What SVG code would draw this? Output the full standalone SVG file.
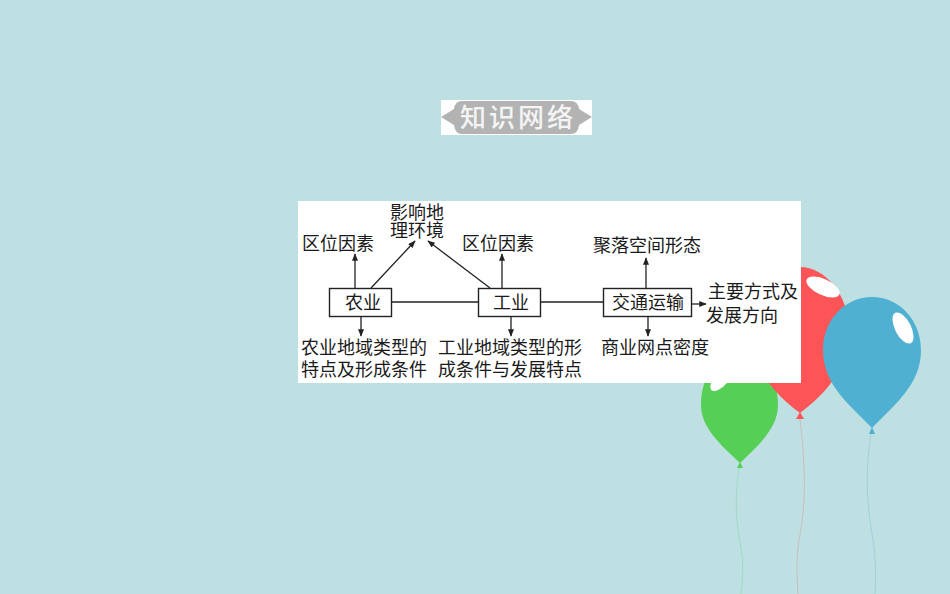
<svg xmlns="http://www.w3.org/2000/svg" width="950" height="594" viewBox="0 0 950 594">
<style>
text{font-family:"Noto Sans CJK SC","Liberation Serif",serif;font-size:18px;fill:#1a1a1a}
.box{fill:#fff;stroke:#222;stroke-width:1.4}
.ln{stroke:#222;stroke-width:1.3;fill:none}
.ar{stroke:#222;stroke-width:1.3;fill:none;marker-end:url(#a)}
.str{fill:none;stroke-width:1;opacity:.4}
</style>
<defs><marker id="a" viewBox="0 0 10 8" refX="9" refY="4" markerWidth="9" markerHeight="6" markerUnits="userSpaceOnUse" orient="auto"><path d="M0 0L10 4L0 8z" fill="#222"/></marker></defs>
<rect width="950" height="594" fill="#bfe0e2"/>
<g id="balloons">
<path class="str" stroke="#6fcf8a" d="M739 468C733 510 738 530 742 555C744 570 742 585 741 594"/>
<path class="str" stroke="#d88a8a" d="M800 419C806 470 806 505 799 540C796 560 797 580 798 594"/>
<path class="str" stroke="#6fb8cf" d="M871 434C864 480 868 510 873 540C876 560 876 580 875 594"/>
<path fill="#55cf55" d="M740 463C722 446 701 428 701 405C701 377 718 350 740 350C762 350 778 377 778 405C778 428 758 446 740 463z"/>
<path fill="#55cf55" d="M740 462l-3 6h6z"/>
<ellipse cx="722" cy="378" rx="16" ry="7" fill="#fff" transform="rotate(-50 722 378)"/>
<path fill="#fd5557" d="M800 413C780 398 751 372 751 330C751 295 775 267 800 267C825 267 849 295 849 330C849 372 820 398 800 413z"/>
<path fill="#fd5557" d="M800 412l-4 7h8z"/>
<ellipse cx="823" cy="287" rx="18" ry="8" fill="#fff" transform="rotate(25 823 287)"/>
<path fill="#4fb0d2" d="M872 428C850 405 823 385 823 350C823 320 845 297 872 297C899 297 921 320 921 350C921 385 894 405 872 428z"/>
<path fill="#4fb0d2" d="M872 427l-3 7h6z"/>
<ellipse cx="903" cy="328" rx="8" ry="17" fill="#fff" transform="rotate(-27 903 328)"/>
</g>
<g id="title">
<rect x="441" y="100" width="151" height="35" fill="#fff"/>
<path fill="#b3b3b3" d="M441 117L454 109Q455 101 462 101H571Q578 101 579 109L592 117L579 125Q578 134 571 134H462Q455 134 454 125z"/>
<text x="460" y="127" style="font-size:26px;letter-spacing:3px;fill:#f4f4f4;font-weight:500">知识网络</text>
</g>
<rect x="298" y="201" width="503" height="182" fill="#fff"/>
<g id="connectors">
<path class="ln" d="M392 302H478M541 302H603"/>
<path class="ar" d="M355 288V254"/>
<path class="ar" d="M371 288L415 241"/>
<path class="ar" d="M490 288L428 241"/>
<path class="ar" d="M502 288V254"/>
<path class="ar" d="M646 288V258"/>
<path class="ar" d="M361 317V336"/>
<path class="ar" d="M511 317V336"/>
<path class="ar" d="M648 317V336"/>
<path class="ar" d="M691 304H706"/>
</g>
<g id="n-nongye"><rect class="box" x="329.500" y="288.500" width="62" height="28"/><text x="345" y="309">农业</text></g>
<g id="n-gongye"><rect class="box" x="478.500" y="288.500" width="62" height="28"/><text x="493" y="309">工业</text></g>
<g id="n-jiaotong"><rect class="box" x="603.500" y="288.500" width="88" height="28"/><text x="612" y="309">交通运输</text></g>
<g id="l-1"><text x="302" y="250">区位因素</text></g>
<g id="l-2"><text x="390" y="219"><tspan x="390" y="219">影响地</tspan><tspan x="390" y="237">理环境</tspan></text></g>
<g id="l-3"><text x="462" y="250">区位因素</text></g>
<g id="l-4"><text x="593" y="252">聚落空间形态</text></g>
<g id="l-5"><text x="708" y="298"><tspan x="708" y="298">主要方式及</tspan><tspan x="706" y="322">发展方向</tspan></text></g>
<g id="l-6"><text x="301" y="354"><tspan x="301" y="354">农业地域类型的</tspan><tspan x="301" y="376">特点及形成条件</tspan></text></g>
<g id="l-7"><text x="438" y="354"><tspan x="438" y="354">工业地域类型的形</tspan><tspan x="438" y="376">成条件与发展特点</tspan></text></g>
<g id="l-8"><text x="601" y="354">商业网点密度</text></g>
</svg>
